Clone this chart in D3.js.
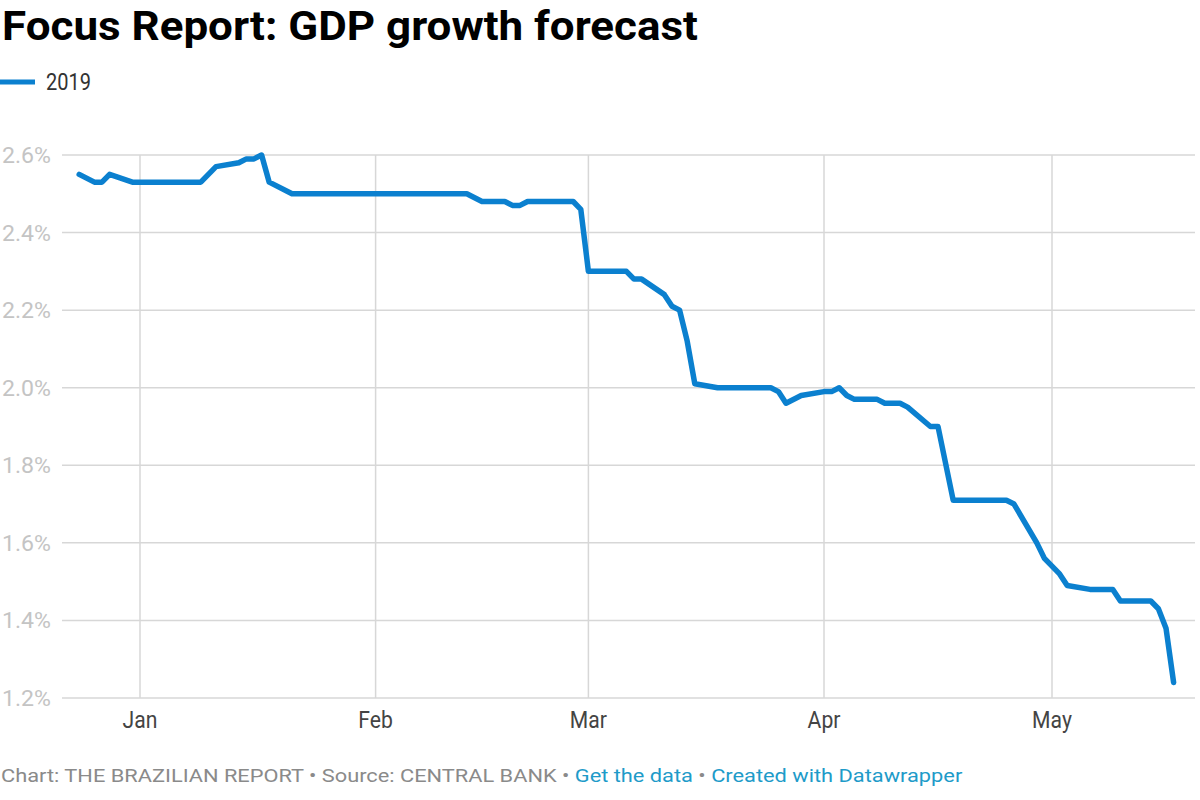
<!DOCTYPE html>
<html>
<head>
<meta charset="utf-8">
<script src="https://cdn.jsdelivr.net/npm/d3@7"></script>
<style>
  html, body { margin: 0; padding: 0; background: #fff; }
  svg { display: block; font-family: Roboto, "Noto Sans", sans-serif; }
</style>
</head>
<body>
<svg id="chart" width="1200" height="800"></svg>
<script>
// ---- data ----
const dates = [
  "2018-12-24","2018-12-26","2018-12-27","2018-12-28","2018-12-31",
  "2019-01-09","2019-01-11","2019-01-14","2019-01-15","2019-01-16","2019-01-17","2019-01-18","2019-01-21",
  "2019-02-13","2019-02-15","2019-02-18","2019-02-19","2019-02-20","2019-02-21","2019-02-27","2019-02-28",
  "2019-03-01","2019-03-06","2019-03-07","2019-03-08","2019-03-11","2019-03-12","2019-03-13","2019-03-14","2019-03-15",
  "2019-03-18","2019-03-25","2019-03-26","2019-03-27","2019-03-29",
  "2019-04-01","2019-04-02","2019-04-03","2019-04-04","2019-04-05","2019-04-08","2019-04-09","2019-04-11","2019-04-12",
  "2019-04-15","2019-04-16","2019-04-18","2019-04-25","2019-04-26","2019-04-29","2019-04-30",
  "2019-05-02","2019-05-03","2019-05-06","2019-05-09","2019-05-10","2019-05-14","2019-05-15","2019-05-16","2019-05-17"
];
const gdp2019 = [
  2.55, 2.53, 2.53, 2.55, 2.53,
  2.53, 2.57, 2.58, 2.59, 2.59, 2.60, 2.53, 2.50,
  2.50, 2.48, 2.48, 2.47, 2.47, 2.48, 2.48, 2.46,
  2.30, 2.30, 2.28, 2.28, 2.24, 2.21, 2.20, 2.12, 2.01,
  2.00, 2.00, 1.99, 1.96, 1.98,
  1.99, 1.99, 2.00, 1.98, 1.97, 1.97, 1.96, 1.96, 1.95,
  1.90, 1.90, 1.71, 1.71, 1.70, 1.60, 1.56,
  1.52, 1.49, 1.48, 1.48, 1.45, 1.45, 1.43, 1.38, 1.24
];
const yTicks = [1.2, 1.4, 1.6, 1.8, 2.0, 2.2, 2.4, 2.6];
const xTickDates = ["2019-01-01","2019-02-01","2019-03-01","2019-04-01","2019-05-01"];
const xTickLabels = ["Jan","Feb","Mar","Apr","May"];
const seriesName = "2019";
const titleText = "Focus Report: GDP growth forecast";
const footerParts = [
  {t: "Chart: THE BRAZILIAN REPORT • Source: CENTRAL BANK • ", link: false},
  {t: "Get the data", link: true},
  {t: " • ", link: false},
  {t: "Created with Datawrapper", link: true}
];

// ---- layout ----
const parse = d3.utcParse("%Y-%m-%d");
const svg = d3.select("#chart");
const gridLeft = 62, gridRight = 1195;
const x = d3.scaleUtc().domain([parse("2019-01-01"), parse("2019-05-01")]).range([140, 1052]);
const y = d3.scaleLinear().domain([1.2, 2.6]).range([698, 155]);
const BLUE = "#0b80cf";

function fit(sel, w) {
  const n = sel.node();
  const len = n.getComputedTextLength();
  const tx = +sel.attr("data-x"), ty = +sel.attr("data-y");
  sel.attr("transform", `translate(${tx},${ty}) scale(${w / len},1)`);
}

// title
const title = svg.append("text").attr("data-x", 2).attr("data-y", 40)
  .attr("font-size", 41).attr("font-weight", 700).attr("fill", "#000").text(titleText);
fit(title, 696);

// legend
svg.append("line").attr("x1", 0).attr("x2", 35).attr("y1", 82).attr("y2", 82)
  .attr("stroke", BLUE).attr("stroke-width", 5);
const leg = svg.append("text").attr("data-x", 46).attr("data-y", 90)
  .attr("font-size", 23).attr("fill", "#333").text(seriesName);
fit(leg, 45);

// gridlines
const g = svg.append("g");
g.selectAll("line.h").data(yTicks).join("line").attr("class", "h")
  .attr("x1", gridLeft).attr("x2", gridRight)
  .attr("y1", d => y(d)).attr("y2", d => y(d))
  .attr("stroke", "#d7d7d7").attr("stroke-width", 1.5);
g.selectAll("line.v").data(xTickDates).join("line").attr("class", "v")
  .attr("x1", d => x(parse(d))).attr("x2", d => x(parse(d)))
  .attr("y1", y(2.6)).attr("y2", y(1.2))
  .attr("stroke", "#d7d7d7").attr("stroke-width", 1.5);

// y labels
yTicks.forEach(v => {
  const t = svg.append("text").attr("data-x", 2).attr("data-y", y(v) + 8)
    .attr("font-size", 22).attr("fill", "#c4c4c4").text(d3.format(".1f")(v) + "%");
  fit(t, 49);
});

// x labels
xTickDates.forEach((d, i) => {
  const t = svg.append("text").attr("font-size", 23).attr("fill", "#444")
    .attr("text-anchor", "middle").text(xTickLabels[i]);
  t.attr("transform", `translate(${x(parse(d))},728) scale(0.92,1)`);
});

// line
const pts = dates.map((d, i) => ({date: parse(d), v: gdp2019[i]}));
svg.append("path").datum(pts)
  .attr("fill", "none").attr("stroke", BLUE).attr("stroke-width", 5.5)
  .attr("stroke-linejoin", "round").attr("stroke-linecap", "round")
  .attr("d", d3.line().x(d => x(d.date)).y(d => y(d.v)));

// footer
const foot = svg.append("text").attr("data-x", 1).attr("data-y", 782).attr("font-size", 19);
footerParts.forEach(p => foot.append("tspan").attr("fill", p.link ? "#1e9bc9" : "#8a8a8a").text(p.t));
fit(foot, 962);
</script>
</body>
</html>
